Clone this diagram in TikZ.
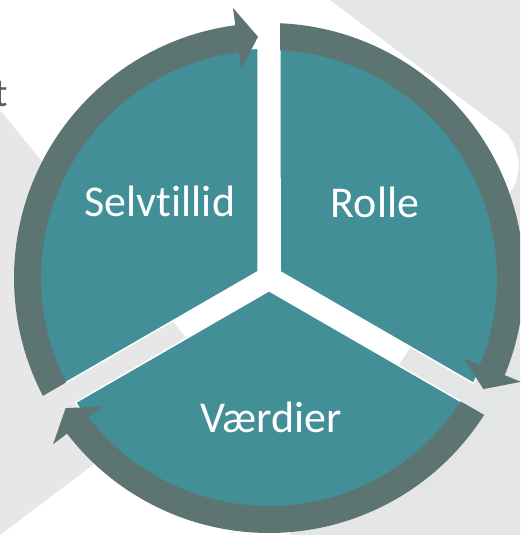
\documentclass[tikz,border=0pt]{standalone}
\usepackage{fontspec}
\setmainfont{Carlito}[Ligatures={NoCommon}]
\definecolor{sectorteal}{HTML}{428F98}
\definecolor{ringgray}{HTML}{5C7573}
\definecolor{bgleft}{HTML}{E7E7E7}
\definecolor{bgright}{HTML}{E4E6E5}
\definecolor{tcol}{HTML}{52605F}
\begin{document}
\begin{tikzpicture}[x=1pt,y=1pt,
  sectorshape/.style={fill=sectorteal, draw=white, line width=1.5pt},
  ringarrow/.style={fill=ringgray},
  lbl/.style={text=white, font=\fontsize{44}{53}\selectfont, inner sep=0pt, anchor=base}]
\useasboundingbox (0,0) rectangle (520,535);
\clip (0,0) rectangle (520,535);
\fill[white] (0,0) rectangle (520,535);
% background shapes
\fill[bgright, rounded corners=44pt] (200,632.5) -- (535.3,381) -- (150,-216) -- (700,-216) -- (700,632.5) -- cycle;
\fill[bgleft] (-100,547.2) -- (215,162) -- (-100,-75.3) -- cycle;
\node[text=tcol, font=\fontsize{40}{48}\selectfont, inner sep=0pt, anchor=base east] (t) at (8,428) {t};
\begin{scope}[shift={(269pt,257pt)}]
  % sectors
  \path[sectorshape] (30:12.7pt) -- (-27.26:230pt) arc[start angle=-27.26, end angle=87.26, radius=230pt] -- cycle;
  \path[sectorshape] (150:12.7pt) -- (92.74:230pt) arc[start angle=92.74, end angle=207.26, radius=230pt] -- cycle;
  \path[sectorshape] (270:12.7pt) -- (212.74:230pt) arc[start angle=212.74, end angle=327.26, radius=230pt] -- cycle;
  % circular arrows
  \path[ringarrow] (207.527:255pt) arc[start angle=207.527, end angle=97.6, radius=255pt]
    -- (97.6:272.5pt) -- (92.611:241.5pt) -- (97.6:210.5pt) -- (97.6:228pt)
    arc[start angle=97.6, end angle=207.234, radius=228pt] -- cycle;
  \path[ringarrow] (87.527:255pt) arc[start angle=87.527, end angle=-22.4, radius=255pt]
    -- (-22.4:272.5pt) -- (-27.389:241.5pt) -- (-22.4:210.5pt) -- (-22.4:228pt)
    arc[start angle=-22.4, end angle=87.234, radius=228pt] -- cycle;
  \path[ringarrow] (327.527:255pt) arc[start angle=327.527, end angle=217.6, radius=255pt]
    -- (217.6:272.5pt) -- (212.611:241.5pt) -- (217.6:210.5pt) -- (217.6:228pt)
    arc[start angle=217.6, end angle=327.234, radius=228pt] -- cycle;
\end{scope}
\node[lbl] (selvtillid) at (160,318) {Selvtillid};
\node[lbl] (rolle) at (375,317) {Rolle};
\node[lbl] (vaerdier) at (271,102) {Værdier};
\end{tikzpicture}
\end{document}
